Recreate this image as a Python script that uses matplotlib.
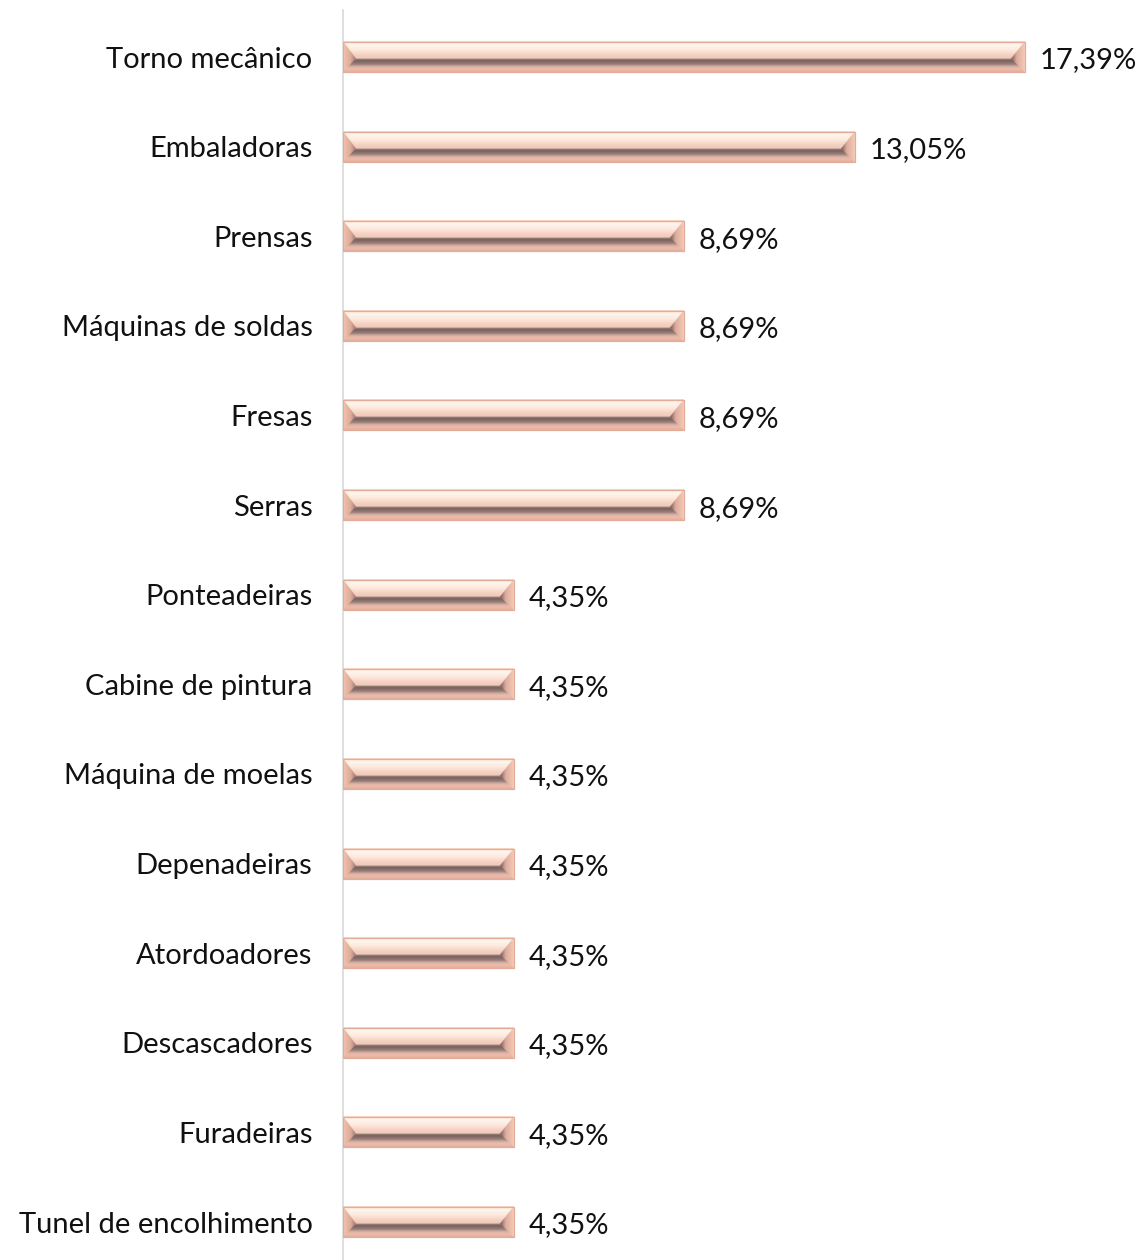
import numpy as np
import matplotlib
matplotlib.use("Agg")
import matplotlib.pyplot as plt
from matplotlib.colors import to_rgb

categories = ["Torno mecânico", "Embaladoras", "Prensas", "Máquinas de soldas", "Fresas",
              "Serras", "Ponteadeiras", "Cabine de pintura", "Máquina de moelas",
              "Depenadeiras", "Atordoadores", "Descascadores", "Furadeiras",
              "Tunel de encolhimento"]
values = [17.39, 13.05, 8.69, 8.69, 8.69, 8.69, 4.35, 4.35, 4.35, 4.35, 4.35, 4.35, 4.35, 4.35]

plt.rcParams['font.family'] = ['Lato', 'DejaVu Sans']

W_PX, H_PX = 1140, 1260
fig = plt.figure(figsize=(W_PX / 100, H_PX / 100), dpi=100)
left = 343 / W_PX
ax = fig.add_axes([left, 0.0, 1 - left, 1 - 10 / H_PX])

px_per_unit = 39.2
xmax = (W_PX - 343) / px_per_unit
ax.set_xlim(0, xmax)
ax.set_ylim(13.424, -0.5245)

bar_h = 0.335
y = np.arange(len(categories))
bars = ax.barh(y, values, height=bar_h, color='#f4c0ab', edgecolor='#e2ac98', linewidth=0.8, zorder=2)


def grad(stops, t):
    t = np.clip(t, 0, 1)
    pos = np.array([s[0] for s in stops])
    cols = np.array([to_rgb(s[1]) for s in stops])
    out = np.zeros(t.shape + (3,))
    for c in range(3):
        out[..., c] = np.interp(t, pos, cols[:, c])
    return out


top_stops = [(0, '#f8cdb9'), (0.2, '#fff6ef'), (0.5, '#fde9de'), (0.8, '#f6d0c0'), (1.0, '#eccabd')]
bot_stops = [(0, '#e3b0a0'), (0.25, '#efbcab'), (0.42, '#d2ada2'), (0.58, '#9a807a'),
             (0.85, '#785f59'), (1.0, '#a58c86')]
left_stops = [(0, '#f5c4b0'), (0.6, '#dcab99'), (1.0, '#9e7a70')]
right_stops = [(0, '#f7cbb8'), (0.6, '#dbac9c'), (1.0, '#745650')]

scale = 3
for i, (b, v) in enumerate(zip(bars, values)):
    wpx = int(round(v * px_per_unit)) * scale
    hpx = 30 * scale
    uu, vv = np.meshgrid(np.arange(wpx) + 0.5, np.arange(hpx) + 0.5)
    bT = 17 * scale
    bB = 13 * scale
    bL = 13 * scale
    bR = 14 * scale
    dT = vv / bT
    dB = (hpx - vv) / bB
    dL = uu / bL
    dR = (wpx - uu) / bR
    stack = np.stack([dT, dB, dL, dR])
    which = np.argmin(stack, axis=0)
    img = np.where((which == 0)[..., None], grad(top_stops, dT), 0)
    img = np.where((which == 1)[..., None], grad(bot_stops, dB), img)
    img = np.where((which == 2)[..., None], grad(left_stops, dL), img)
    img = np.where((which == 3)[..., None], grad(right_stops, dR), img)
    x0, yc = b.get_x(), b.get_y() + b.get_height() / 2
    ax.imshow(img, extent=(x0, x0 + b.get_width(), yc + bar_h / 2, yc - bar_h / 2),
              aspect='auto', interpolation='bilinear', zorder=3)
    ax.add_patch(plt.Rectangle((x0, yc - bar_h / 2), b.get_width(), bar_h, fill=False,
                               edgecolor='#e2ac98', linewidth=0.8, zorder=4))
    ax.annotate(f"{v:.2f}".replace('.', ',') + '%', xy=(v, yc), xytext=(11, -2.5),
                textcoords='offset points', va='center', ha='left', fontsize=21,
                color='#111111')

ax.set_xlim(0, xmax)
ax.set_ylim(13.424, -0.5245)
ax.set_yticks(y)
ax.set_yticklabels(categories, fontsize=21, color='#111111')
ax.tick_params(axis='y', length=0, pad=22)
ax.set_xticks([])
for s in ['top', 'right', 'bottom']:
    ax.spines[s].set_visible(False)
ax.spines['left'].set_color('#d9d9d9')
ax.spines['left'].set_linewidth(1.2)
ax.set_facecolor('none')

fig.savefig('out.png', dpi=100, facecolor='white')
